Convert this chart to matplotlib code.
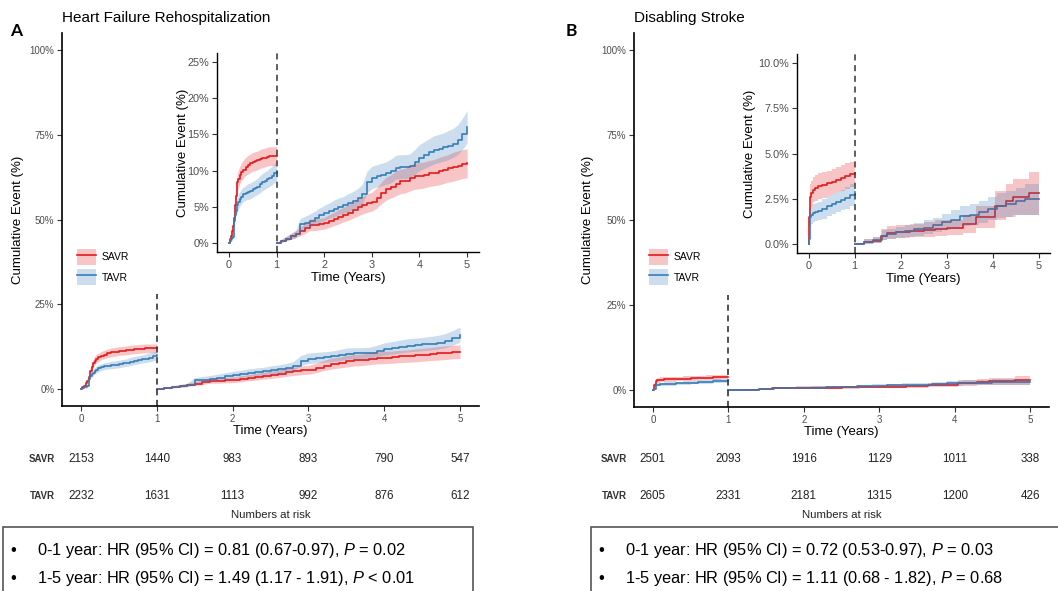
import matplotlib
matplotlib.use("Agg")
import matplotlib.pyplot as plt
from matplotlib.patches import Patch, Rectangle
from matplotlib.lines import Line2D
from matplotlib.transforms import blended_transform_factory

plt.rcParams['font.family'] = ['Liberation Sans', 'DejaVu Sans']
plt.rcParams['mathtext.fontset'] = 'custom'
plt.rcParams['mathtext.rm'] = 'Liberation Sans'
plt.rcParams['mathtext.it'] = 'Liberation Sans:italic'

RED = '#E41A1C'
BLUE = '#377EB8'
TICK_GREY = '#4D4D4D'

# ---- Heart failure rehospitalization (%), 0-1 year ----
hf_t_early = [0, 0.02, 0.04, 0.06, 0.08, 0.10, 0.12, 0.14, 0.16, 0.18, 0.20, 0.23, 0.26, 0.30,
              0.35, 0.40, 0.45, 0.50, 0.55, 0.60, 0.65, 0.70, 0.75, 0.80, 0.85, 0.90, 0.95, 1.0]
hf_savr_early = [0, 0.5, 1.0, 1.7, 2.4, 3.5, 5.2, 6.5, 7.6, 8.4, 8.9, 9.4, 9.8, 10.1,
                 10.5, 10.8, 11.0, 11.2, 11.3, 11.4, 11.6, 11.7, 11.8, 11.9, 12.0, 12.0, 12.0, 12.0]
hf_savr_early_lo = [0, 0.2, 0.5, 1.1, 1.7, 2.7, 4.2, 5.4, 6.5, 7.2, 7.7, 8.2, 8.6, 8.9,
                    9.3, 9.5, 9.7, 9.9, 10.0, 10.1, 10.3, 10.4, 10.5, 10.6, 10.7, 10.7, 10.7, 10.7]
hf_savr_early_hi = [0, 0.8, 1.5, 2.3, 3.1, 4.3, 6.2, 7.6, 8.7, 9.6, 10.1, 10.6, 11.0, 11.4,
                    11.8, 12.1, 12.3, 12.5, 12.6, 12.7, 12.9, 13.0, 13.1, 13.2, 13.3, 13.3, 13.3, 13.3]
hf_tavr_early = [0, 0.3, 0.5, 0.7, 0.8, 3.0, 3.8, 4.4, 4.8, 5.3, 5.7, 6.1, 6.4, 6.7,
                 6.9, 7.1, 7.2, 7.4, 7.6, 7.8, 8.1, 8.4, 8.6, 8.8, 9.0, 9.3, 9.6, 9.9]
hf_tavr_early_lo = [0, 0.1, 0.2, 0.3, 0.4, 2.3, 3.0, 3.5, 3.9, 4.4, 4.7, 5.1, 5.4, 5.7,
                    5.9, 6.0, 6.1, 6.3, 6.5, 6.7, 6.9, 7.2, 7.4, 7.6, 7.8, 8.0, 8.3, 8.6]
hf_tavr_early_hi = [0, 0.5, 0.8, 1.1, 1.2, 3.7, 4.6, 5.3, 5.7, 6.2, 6.7, 7.1, 7.4, 7.7,
                    7.9, 8.2, 8.3, 8.5, 8.7, 8.9, 9.3, 9.6, 9.8, 10.0, 10.3, 10.6, 10.9, 11.2]

# ---- Heart failure rehospitalization (%), 1-5 years (landmark at 1 year) ----
hf_t_late = [1.0, 1.1, 1.2, 1.3, 1.4, 1.5, 1.6, 1.7, 1.8, 1.9, 2.0, 2.1, 2.2, 2.3, 2.4, 2.5,
             2.6, 2.7, 2.8, 2.9, 3.0, 3.1, 3.2, 3.3, 3.4, 3.5, 3.6, 3.7, 3.8, 3.9, 4.0, 4.1,
             4.2, 4.3, 4.4, 4.5, 4.6, 4.7, 4.8, 4.9, 5.0]
hf_savr_late = [0, 0.3, 0.6, 0.9, 1.2, 1.6, 2.0, 2.5, 2.5, 2.6, 2.7, 3.0, 3.3, 3.6, 3.9, 4.2,
                4.5, 4.9, 5.2, 5.5, 5.7, 6.2, 6.9, 7.5, 7.8, 8.2, 8.5, 8.6, 9.0, 9.2, 9.3, 9.4,
                9.6, 9.7, 9.9, 10.1, 10.3, 10.5, 10.7, 10.9, 11.0]
hf_savr_late_lo = [0, 0.1, 0.3, 0.5, 0.7, 1.0, 1.3, 1.7, 1.7, 1.8, 1.9, 2.1, 2.4, 2.6, 2.9, 3.1,
                   3.4, 3.7, 4.0, 4.2, 4.4, 4.8, 5.4, 5.9, 6.2, 6.5, 6.8, 6.9, 7.2, 7.4, 7.5, 7.6,
                   7.8, 7.9, 8.0, 8.2, 8.4, 8.5, 8.7, 8.9, 9.0]
hf_savr_late_hi = [0, 0.5, 0.9, 1.3, 1.7, 2.2, 2.7, 3.3, 3.3, 3.4, 3.5, 3.9, 4.2, 4.6, 4.9, 5.3,
                   5.6, 6.1, 6.4, 6.8, 7.0, 7.6, 8.4, 9.1, 9.4, 9.9, 10.2, 10.3, 10.8, 11.0, 11.1, 11.2,
                   11.4, 11.5, 11.8, 12.0, 12.2, 12.5, 12.7, 12.9, 13.0]
hf_tavr_late = [0, 0.3, 0.6, 0.9, 1.2, 2.6, 2.8, 3.1, 3.4, 3.8, 4.1, 4.4, 4.7, 5.0, 5.2, 5.5,
                5.8, 6.2, 6.7, 8.4, 9.0, 9.2, 9.4, 9.6, 9.9, 10.4, 10.5, 10.5, 10.6, 11.2, 11.8, 12.1,
                12.5, 12.8, 13.0, 13.2, 13.4, 13.7, 14.2, 15.0, 16.0]
hf_tavr_late_lo = [0, 0.1, 0.3, 0.5, 0.7, 1.8, 2.0, 2.2, 2.5, 2.8, 3.1, 3.4, 3.6, 3.9, 4.1, 4.3,
                   4.6, 4.9, 5.4, 6.9, 7.5, 7.7, 7.9, 8.1, 8.3, 8.8, 8.9, 8.9, 9.0, 9.5, 10.0, 10.3,
                   10.6, 10.9, 11.1, 11.3, 11.5, 11.8, 12.2, 12.9, 13.8]
hf_tavr_late_hi = [0, 0.5, 0.9, 1.3, 1.7, 3.4, 3.7, 4.0, 4.4, 4.8, 5.2, 5.5, 5.9, 6.2, 6.4, 6.8,
                   7.1, 7.5, 8.1, 9.9, 10.6, 10.8, 11.0, 11.2, 11.6, 12.1, 12.2, 12.2, 12.3, 12.9, 13.6, 14.0,
                   14.4, 14.8, 15.0, 15.2, 15.5, 15.8, 16.3, 17.2, 18.3]

# ---- Disabling stroke (%), 0-1 year ----
st_t_early = [0, 0.02, 0.04, 0.06, 0.10, 0.15, 0.20, 0.30, 0.40, 0.50, 0.60, 0.70, 0.80, 0.90, 1.0]
st_savr_early = [0, 1.5, 2.6, 2.8, 3.0, 3.1, 3.2, 3.25, 3.35, 3.45, 3.55, 3.65, 3.75, 3.85, 3.9]
st_savr_early_lo = [0, 1.0, 1.9, 2.1, 2.3, 2.4, 2.5, 2.55, 2.65, 2.75, 2.85, 2.95, 3.05, 3.15, 3.2]
st_savr_early_hi = [0, 2.0, 3.3, 3.5, 3.7, 3.8, 3.9, 3.95, 4.05, 4.15, 4.25, 4.35, 4.45, 4.55, 4.6]
st_tavr_early = [0, 0.3, 1.5, 1.6, 1.7, 1.75, 1.8, 1.95, 2.1, 2.2, 2.3, 2.45, 2.55, 2.7, 2.85]
st_tavr_early_lo = [0, 0.1, 1.0, 1.1, 1.2, 1.25, 1.3, 1.4, 1.55, 1.65, 1.75, 1.85, 1.95, 2.1, 2.25]
st_tavr_early_hi = [0, 0.5, 2.0, 2.1, 2.2, 2.25, 2.3, 2.5, 2.65, 2.75, 2.85, 3.0, 3.15, 3.3, 3.45]

# ---- Disabling stroke (%), 1-5 years ----
st_savr_t_late = [1.0, 1.2, 1.4, 1.58, 1.7, 1.9, 2.2, 2.5, 2.75, 3.0, 3.35, 3.65, 4.05, 4.3, 4.45, 4.8, 5.0]
st_savr_late = [0, 0.1, 0.15, 0.45, 0.6, 0.65, 0.7, 0.75, 0.85, 0.9, 1.1, 1.5, 2.1, 2.4, 2.6, 2.8, 2.8]
st_savr_late_lo = [0, 0, 0.05, 0.2, 0.3, 0.35, 0.4, 0.4, 0.45, 0.5, 0.6, 0.9, 1.3, 1.5, 1.6, 1.6, 1.6]
st_savr_late_hi = [0, 0.3, 0.4, 0.8, 1.0, 1.05, 1.1, 1.2, 1.3, 1.35, 1.6, 2.1, 2.9, 3.3, 3.6, 4.0, 4.0]
st_tavr_t_late = [1.0, 1.2, 1.4, 1.6, 1.7, 1.9, 2.1, 2.3, 2.5, 2.7, 2.9, 3.1, 3.3, 3.5, 3.7, 3.9,
                  4.1, 4.3, 4.5, 4.7, 5.0]
st_tavr_late = [0, 0.1, 0.2, 0.45, 0.55, 0.65, 0.7, 0.8, 0.9, 1.05, 1.2, 1.35, 1.55, 1.6, 1.75, 1.95,
                2.1, 2.2, 2.4, 2.5, 2.5]
st_tavr_late_lo = [0, 0, 0.05, 0.2, 0.3, 0.35, 0.4, 0.45, 0.55, 0.65, 0.75, 0.85, 1.0, 1.05, 1.15, 1.3,
                   1.45, 1.5, 1.6, 1.6, 1.6]
st_tavr_late_hi = [0, 0.25, 0.4, 0.75, 0.85, 0.95, 1.05, 1.15, 1.3, 1.45, 1.65, 1.85, 2.1, 2.2, 2.35, 2.6,
                   2.8, 2.9, 3.1, 3.3, 3.3]

# numbers at risk at years 0..5
risk_years = [0, 1, 2, 3, 4, 5]
hf_risk_savr = [2153, 1440, 983, 893, 790, 547]
hf_risk_tavr = [2232, 1631, 1113, 992, 876, 612]
st_risk_savr = [2501, 2093, 1916, 1129, 1011, 338]
st_risk_tavr = [2605, 2331, 2181, 1315, 1200, 426]

hf_hr_lines = ["0-1 year: HR (95% CI) = 0.81 (0.67-0.97), $P$ = 0.02",
               "1-5 year: HR (95% CI) = 1.49 (1.17 - 1.91), $P$ < 0.01"]
st_hr_lines = ["0-1 year: HR (95% CI) = 0.72 (0.53-0.97), $P$ = 0.03",
               "1-5 year: HR (95% CI) = 1.11 (0.68 - 1.82), $P$ = 0.68"]

W, H = 1058, 591
fig = plt.figure(figsize=(W / 100, H / 100), dpi=100)


def rect(l, t, r, b):
    return [l / W, 1 - b / H, (r - l) / W, (b - t) / H]


def fy(py):
    return 1 - py / H


def pct(v):
    return [x / 100 for x in v]


def style_axes(ax, tick_size, lw):
    for side in ('top', 'right'):
        ax.spines[side].set_visible(False)
    for side in ('left', 'bottom'):
        ax.spines[side].set_linewidth(lw)
    ax.tick_params(length=3.5, width=0.8, color='#333333', labelcolor=TICK_GREY,
                   labelsize=tick_size, pad=2)
    ax.set_xlim(-0.25, 5.25)
    ax.set_xticks([0, 1, 2, 3, 4, 5])


def draw_curves(ax, curves, band_step):
    # lines first, then translucent CI bands over them
    for t, y, lo, hi, c in curves:
        ax.plot(t, pct(y), drawstyle='steps-post', color=c, lw=1.2, zorder=2)
    for t, y, lo, hi, c in curves:
        ax.fill_between(t, pct(lo), pct(hi), step=band_step, color=c, alpha=0.25, lw=0, zorder=3)


def panel(main_px, inset_px, curves, band_step, inset_top, inset_ticks, inset_labels,
          title, letter, letter_x, risk_savr, risk_tavr, label_x, hr_lines, box_left,
          main_ylab_x, inset_ylab_x):
    ax = fig.add_axes(rect(*main_px))
    style_axes(ax, 7, 1.2)
    ax.set_ylim(-0.05, 1.05)
    ax.set_yticks([0, 0.25, 0.5, 0.75, 1.0])
    ax.set_yticklabels(['0%', '25%', '50%', '75%', '100%'])
    draw_curves(ax, curves, band_step)
    ax.vlines(1, -0.05, 0.28, colors='#222222', linestyles=(0, (4, 3)), lw=1.1)
    ax.set_xlabel('Time (Years)', fontsize=9.5)
    ax.set_ylabel('Cumulative Event (%)', fontsize=9.5)
    ax.xaxis.set_label_coords(0.5, -0.05)
    ax.yaxis.set_label_coords(main_ylab_x, 0.5)

    handles = [(Patch(facecolor=RED, alpha=0.25, edgecolor='none'), Line2D([], [], color=RED, lw=1.2)),
               (Patch(facecolor=BLUE, alpha=0.25, edgecolor='none'), Line2D([], [], color=BLUE, lw=1.2))]
    ax.legend(handles, ['SAVR', 'TAVR'], loc='upper left',
              bbox_to_anchor=((main_px[0] + 15) / W, fy(249)), bbox_transform=fig.transFigure,
              frameon=False, fontsize=7.5, handlelength=1.8, handleheight=2.0,
              labelspacing=0.4, handletextpad=0.6, borderpad=0, borderaxespad=0)

    fig.text(main_px[0] / W, fy(18), title, fontsize=11, va='center', ha='left')
    fig.text(letter_x / W, fy(31), letter, fontsize=12.5, fontweight='bold',
             family=['Lato', 'DejaVu Sans'], va='center', ha='left')

    axi = fig.add_axes(rect(*inset_px))
    style_axes(axi, 7.8, 1.0)
    axi.set_facecolor('white')
    axi.set_ylim(-0.05 * inset_top, 1.05 * inset_top)
    axi.set_yticks(inset_ticks)
    axi.set_yticklabels(inset_labels)
    draw_curves(axi, curves, band_step)
    axi.axvline(1, color='#333333', linestyle=(0, (4, 3)), lw=1.1)
    axi.set_xlabel('Time (Years)', fontsize=9.5)
    axi.set_ylabel('Cumulative Event (%)', fontsize=9.5)
    axi.xaxis.set_label_coords(0.5, -0.098)
    axi.yaxis.set_label_coords(inset_ylab_x, 0.5)

    # numbers at risk under the x axis
    tr = blended_transform_factory(ax.transData, fig.transFigure)
    for row_y, name, vals in ((459, 'SAVR', risk_savr), (496, 'TAVR', risk_tavr)):
        fig.text(label_x / W, fy(row_y), name, fontsize=7, fontweight='bold', color='#333333',
                 ha='center', va='center')
        for x, n in zip(risk_years, vals):
            fig.text(x, fy(row_y), str(n), transform=tr, fontsize=8.4, color='#222222',
                     ha='center', va='center')
    fig.text(2.5, fy(515), 'Numbers at risk', transform=tr, fontsize=8.2, color='#222222',
             ha='center', va='center')

    # hazard ratio box
    fig.add_artist(Rectangle((box_left / W, fy(600)), 470 / W, 73 / H, transform=fig.transFigure,
                             fill=False, edgecolor='#555555', lw=1.2, clip_on=False))
    for row_y, line in zip((550, 578), hr_lines):
        fig.text((box_left + 10) / W, fy(row_y), '\u2022', fontsize=11.8, ha='center', va='center')
        fig.text((box_left + 34) / W, fy(row_y), line, fontsize=11.8, ha='left', va='center')
    return ax, axi


panel((62, 33, 479, 406), (217, 53, 479, 252),
      [(hf_t_early, hf_savr_early, hf_savr_early_lo, hf_savr_early_hi, RED),
       (hf_t_early, hf_tavr_early, hf_tavr_early_lo, hf_tavr_early_hi, BLUE),
       (hf_t_late, hf_savr_late, hf_savr_late_lo, hf_savr_late_hi, RED),
       (hf_t_late, hf_tavr_late, hf_tavr_late_lo, hf_tavr_late_hi, BLUE)], None,
      0.25, [0, 0.05, 0.10, 0.15, 0.20, 0.25], ['0%', '5%', '10%', '15%', '20%', '25%'],
      'Heart Failure Rehospitalization', 'A', 10, hf_risk_savr, hf_risk_tavr, 42,
      hf_hr_lines, 3, -0.091, -0.107)

panel((634, 33, 1049, 407), (797, 54, 1050, 253),
      [(st_t_early, st_savr_early, st_savr_early_lo, st_savr_early_hi, RED),
       (st_t_early, st_tavr_early, st_tavr_early_lo, st_tavr_early_hi, BLUE),
       (st_savr_t_late, st_savr_late, st_savr_late_lo, st_savr_late_hi, RED),
       (st_tavr_t_late, st_tavr_late, st_tavr_late_lo, st_tavr_late_hi, BLUE)], 'post',
      0.10, [0, 0.025, 0.05, 0.075, 0.10], ['0.0%', '2.5%', '5.0%', '7.5%', '10.0%'],
      'Disabling Stroke', 'B', 566, st_risk_savr, st_risk_tavr, 614,
      st_hr_lines, 591, -0.096, -0.162)

fig.savefig('out.png', dpi=100)
